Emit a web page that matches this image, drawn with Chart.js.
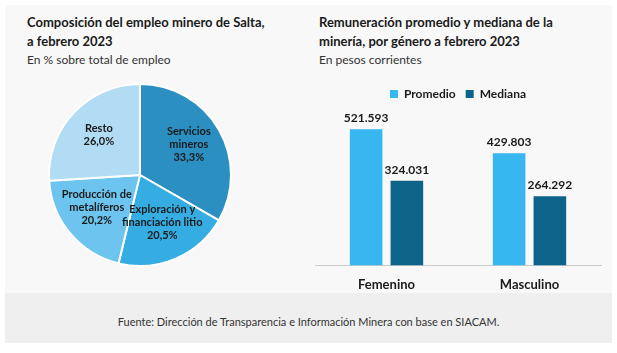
<!DOCTYPE html>
<html>
<head>
<meta charset="utf-8">
<script src="https://cdn.jsdelivr.net/npm/chart.js@4"></script>
<style>
  body { margin: 0; background: #ffffff; font-family: Lato, "Noto Sans", sans-serif; }
  #panel { position: absolute; left: 5px; top: 5px; width: 607px; height: 288px; background: #f8f8f8; }
  #footer { position: absolute; left: 5px; top: 293px; width: 607px; height: 50px; background: #efefef;
            font-size: 11px; color: #333; text-align: center; line-height: 58px; }
  .title { position: absolute; font-weight: 700; font-size: 13px; color: #1a1a1a; line-height: 19px; }
  .sub { position: absolute; font-size: 12px; color: #333; }
  canvas { position: absolute; }
</style>
</head>
<body>
<div id="panel"></div>
<div class="title" style="left:27px; top:13px;">Composición del empleo minero de Salta,<br>a febrero 2023</div>
<div class="sub" style="left:27px; top:52px;">En % sobre total de empleo</div>
<div class="title" style="left:319px; top:13px;">Remuneración promedio y mediana de la<br>minería, por género a febrero 2023</div>
<div class="sub" style="left:319px; top:52px;">En pesos corrientes</div>
<canvas id="pie" width="200" height="190" style="left:40px; top:80px;"></canvas>
<canvas id="bar" width="312" height="219" style="left:300px; top:78px;"></canvas>
<div id="footer">Fuente: Dirección de Transparencia e Información Minera con base en SIACAM.</div>
<script>
// pie data
const pieLabels = [["Servicios", "mineros"], ["Exploración y", "financiación litio"], ["Producción de", "metalíferos"], ["Resto"]];
const pieValues = [33.3, 20.5, 20.2, 26.0];
const pieColors = ["#2b8fc2", "#35ade3", "#6cc4ef", "#b2dcf4"];

// bar data
const genders = ["Femenino", "Masculino"];
const promedio = [521593, 429803];
const mediana = [324031, 264292];

function fmtMiles(n) {   // 521593 -> 521.593
    return String(n).replace(/\B(?=(\d{3})+(?!\d))/g, ".");
}

const pieTextPlugin = {
    id: "pieText",
    afterDatasetsDraw(chart) {
        const ctx = chart.ctx;
        const meta = chart.getDatasetMeta(0);
        ctx.save();
        ctx.font = "bold 11px Lato, 'Noto Sans', sans-serif";
        ctx.fillStyle = "#1a1a1a";
        ctx.textAlign = "center";
        ctx.textBaseline = "middle";
        meta.data.forEach(function(arc, i) {
            const p = arc.getProps(["x", "y", "startAngle", "endAngle", "outerRadius"], true);
            const mid = (p.startAngle + p.endAngle) / 2;
            const cx = p.x + Math.cos(mid) * p.outerRadius * 0.62;
            const cy = p.y + Math.sin(mid) * p.outerRadius * 0.6 - 3;
            const lines = pieLabels[i].concat([pieValues[i].toFixed(1).replace(".", ",") + "%"]);
            const lh = 13;
            lines.forEach(function(t, k) {
                ctx.fillText(t, cx, cy + (k - (lines.length - 1) / 2) * lh);
            });
        });
        ctx.restore();
    }
};

const barTextPlugin = {
    id: "barText",
    afterDatasetsDraw(chart) {
        const ctx = chart.ctx;
        ctx.save();
        ctx.font = "bold 12px Lato, 'Noto Sans', sans-serif";
        ctx.fillStyle = "#1a1a1a";
        ctx.textAlign = "center";
        ctx.textBaseline = "bottom";
        chart.data.datasets.forEach(function(ds, d) {
            chart.getDatasetMeta(d).data.forEach(function(bar, i) {
                ctx.fillText(fmtMiles(ds.data[i]), bar.x, bar.y - 5);
            });
        });
        ctx.restore();
    }
};

new Chart(document.getElementById("pie"), {
    type: "pie",
    data: {
        labels: pieLabels.map(function(l) { return l.join(" "); }),
        datasets: [{
            data: pieValues,
            backgroundColor: pieColors,
            borderColor: "#ffffff",
            borderWidth: 2
        }]
    },
    options: {
        responsive: false,
        animation: false,
        radius: 91,
        plugins: { legend: { display: false }, tooltip: { enabled: false } }
    },
    plugins: [pieTextPlugin]
});

new Chart(document.getElementById("bar"), {
    type: "bar",
    data: {
        labels: genders,
        datasets: [
            { label: "Promedio", data: promedio, backgroundColor: "#38b6f0" },
            { label: "Mediana", data: mediana, backgroundColor: "#0e6389" }
        ]
    },
    options: {
        responsive: false,
        animation: false,
        categoryPercentage: 0.57,
        barPercentage: 0.8,
        layout: { padding: { left: 15, right: 11 } },
        scales: {
            y: { display: false, min: 0, max: 595000 },
            x: {
                grid: { display: false },
                border: { display: true, color: "#cccccc" },
                ticks: { color: "#1a1a1a", font: { family: "Lato", weight: "bold", size: 13 }, padding: 4 }
            }
        },
        plugins: {
            tooltip: { enabled: false },
            legend: {
                labels: {
                    boxWidth: 8, boxHeight: 8, padding: 10,
                    color: "#1a1a1a",
                    font: { family: "Lato", weight: "bold", size: 12 }
                }
            }
        }
    },
    plugins: [barTextPlugin]
});
</script>
</body>
</html>
